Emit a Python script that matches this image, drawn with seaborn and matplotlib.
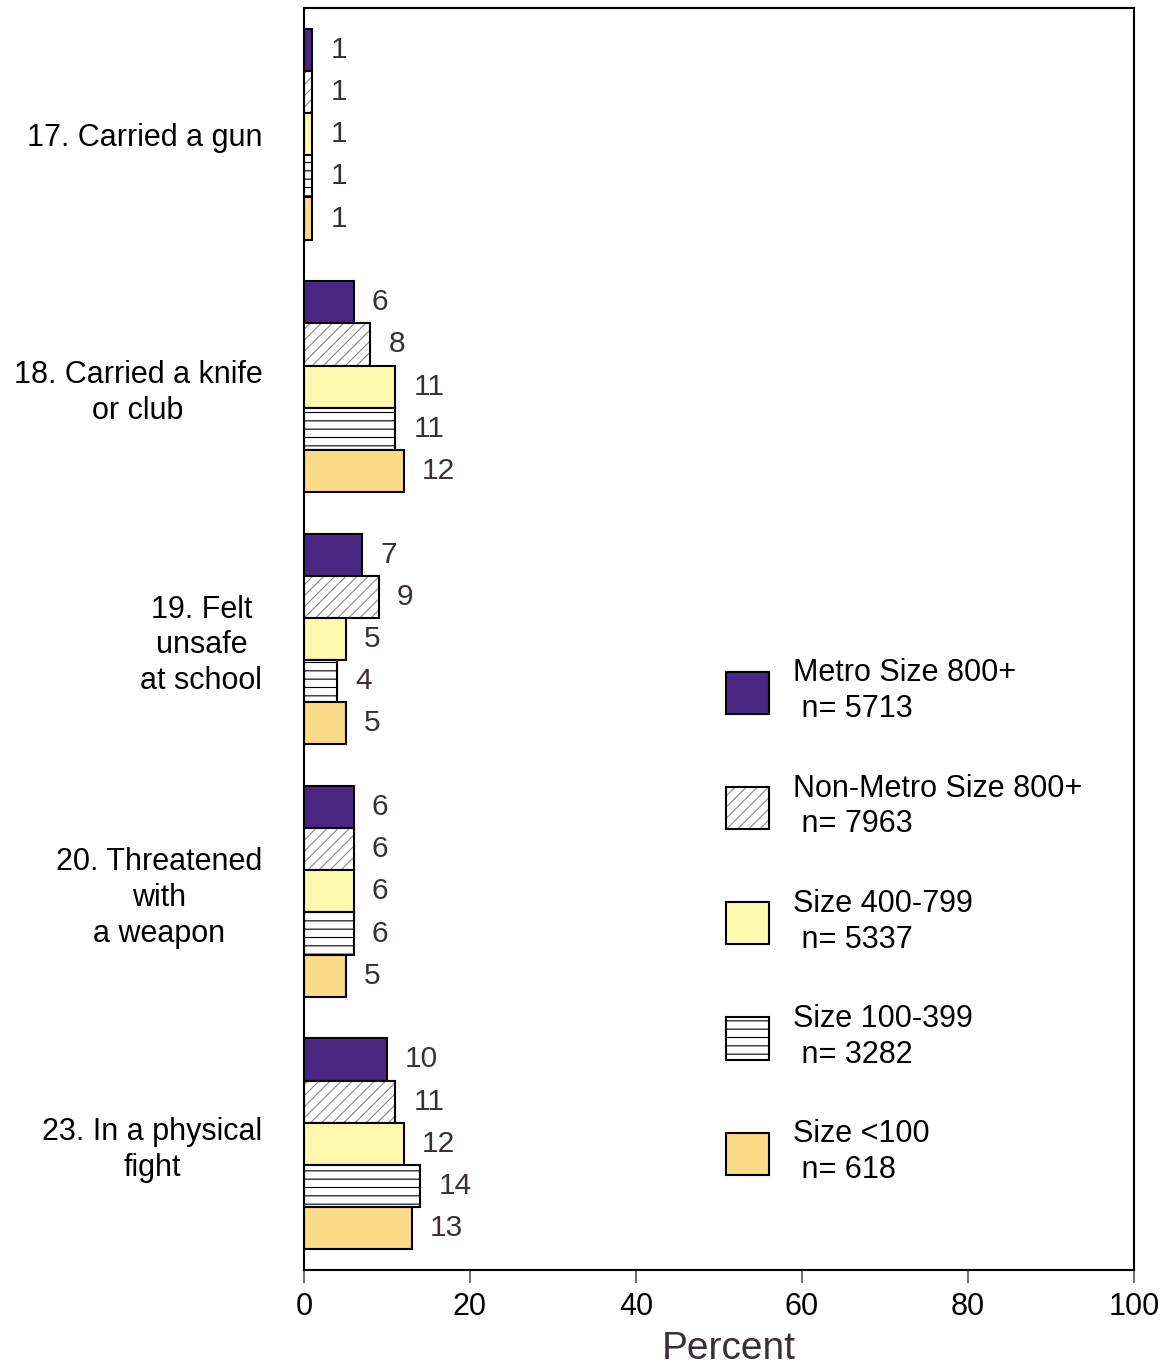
import matplotlib
matplotlib.use("Agg")
import matplotlib.pyplot as plt
import matplotlib.colors as mcolors
from matplotlib.patches import Patch
import seaborn as sns
import pandas as pd

questions = ["17. Carried a gun", "18. Carried a knife\nor club", "19. Felt\nunsafe\nat school",
             "20. Threatened\nwith\na weapon", "23. In a physical\nfight"]
groups = ["Metro Size 800+\n n= 5713", "Non-Metro Size 800+\n n= 7963", "Size 400-799\n n= 5337",
          "Size 100-399\n n= 3282", "Size <100\n n= 618"]
metro = [1, 6, 7, 6, 10]
nonmetro = [1, 8, 9, 6, 11]
size400 = [1, 11, 5, 6, 12]
size100 = [1, 11, 4, 6, 14]
sizelt100 = [1, 12, 5, 5, 13]
xticks = [0, 20, 40, 60, 80, 100]

colors = ["#4A2682", "#FFFFFF", "#FFF9B0", "#FFFFFF", "#FADB87"]
hatches = [None, "///", None, "--", None]
hatch_colors = ["black", "#8a8a8a", "black", "black", "black"]

rows = []
for g, vals in zip(groups, [metro, nonmetro, size400, size100, sizelt100]):
    for q, v in zip(questions, vals):
        rows.append({"Question": q, "Group": g, "Percent": v})
df = pd.DataFrame(rows)

sns.set_style("white")
plt.rcParams["font.family"] = ["Liberation Sans", "DejaVu Sans"]
plt.rcParams["hatch.linewidth"] = 0.8

fig = plt.figure(figsize=(11.66, 13.70), dpi=100)
ax = fig.add_axes([304 / 1166, 1 - 1270 / 1370, 830 / 1166, 1262 / 1370])

sns.barplot(data=df, y="Question", x="Percent", hue="Group", order=questions, hue_order=groups,
            palette=colors, orient="h", width=0.835, ax=ax, legend=False,
            edgecolor="black", linewidth=1.5, errorbar=None, saturation=1)

label_color = "#3a2e38"
for cont, h, hc in zip(ax.containers, hatches, hatch_colors):
    for p in cont:
        if h:
            p.set_hatch(h)
            try:
                p._hatch_color = mcolors.to_rgba(hc)
            except Exception:
                pass
    ax.bar_label(cont, labels=[f"{int(v)}" for v in cont.datavalues], padding=13,
                 fontsize=21.5, color=label_color)

ax.set_xlim(0, 100)
ax.set_ylim(4.5, -0.5)
ax.set_xticks(xticks)
ax.set_xticklabels([str(t) for t in xticks], fontsize=22, color="black")
ax.tick_params(axis="x", direction="out", length=9, width=1.2, color="#555555", pad=7, bottom=True)
ax.tick_params(axis="y", length=0, pad=30, labelsize=22)
for t in ax.get_yticklabels():
    t.set_multialignment("center")
    t.set_linespacing(1.25)
    t.set_color("black")
ax.set_ylabel("")
ax.set_xlabel("Percent", fontsize=28, color=label_color)
ax.xaxis.set_label_coords(0.512, -0.048)
for s in ax.spines.values():
    s.set_visible(True)
    s.set_color("black")
    s.set_linewidth(1.5)

handles = []
for c, h, hc in zip(colors, hatches, hatch_colors):
    p = Patch(facecolor=c, edgecolor="black", linewidth=1.5, hatch=h)
    handles.append(p)
leg = ax.legend(handles, groups, loc="center left", bbox_to_anchor=(0.508, 0.276),
                frameon=False, fontsize=22, handlelength=1.42, handleheight=1.75,
                handletextpad=0.78, labelspacing=1.62, borderpad=0, borderaxespad=0)
for p, hc in zip(leg.get_patches(), hatch_colors):
    try:
        p._hatch_color = mcolors.to_rgba(hc)
    except Exception:
        pass
for t in leg.get_texts():
    t.set_color("black")
    t.set_linespacing(1.25)

fig.savefig("out.png", dpi=100)
